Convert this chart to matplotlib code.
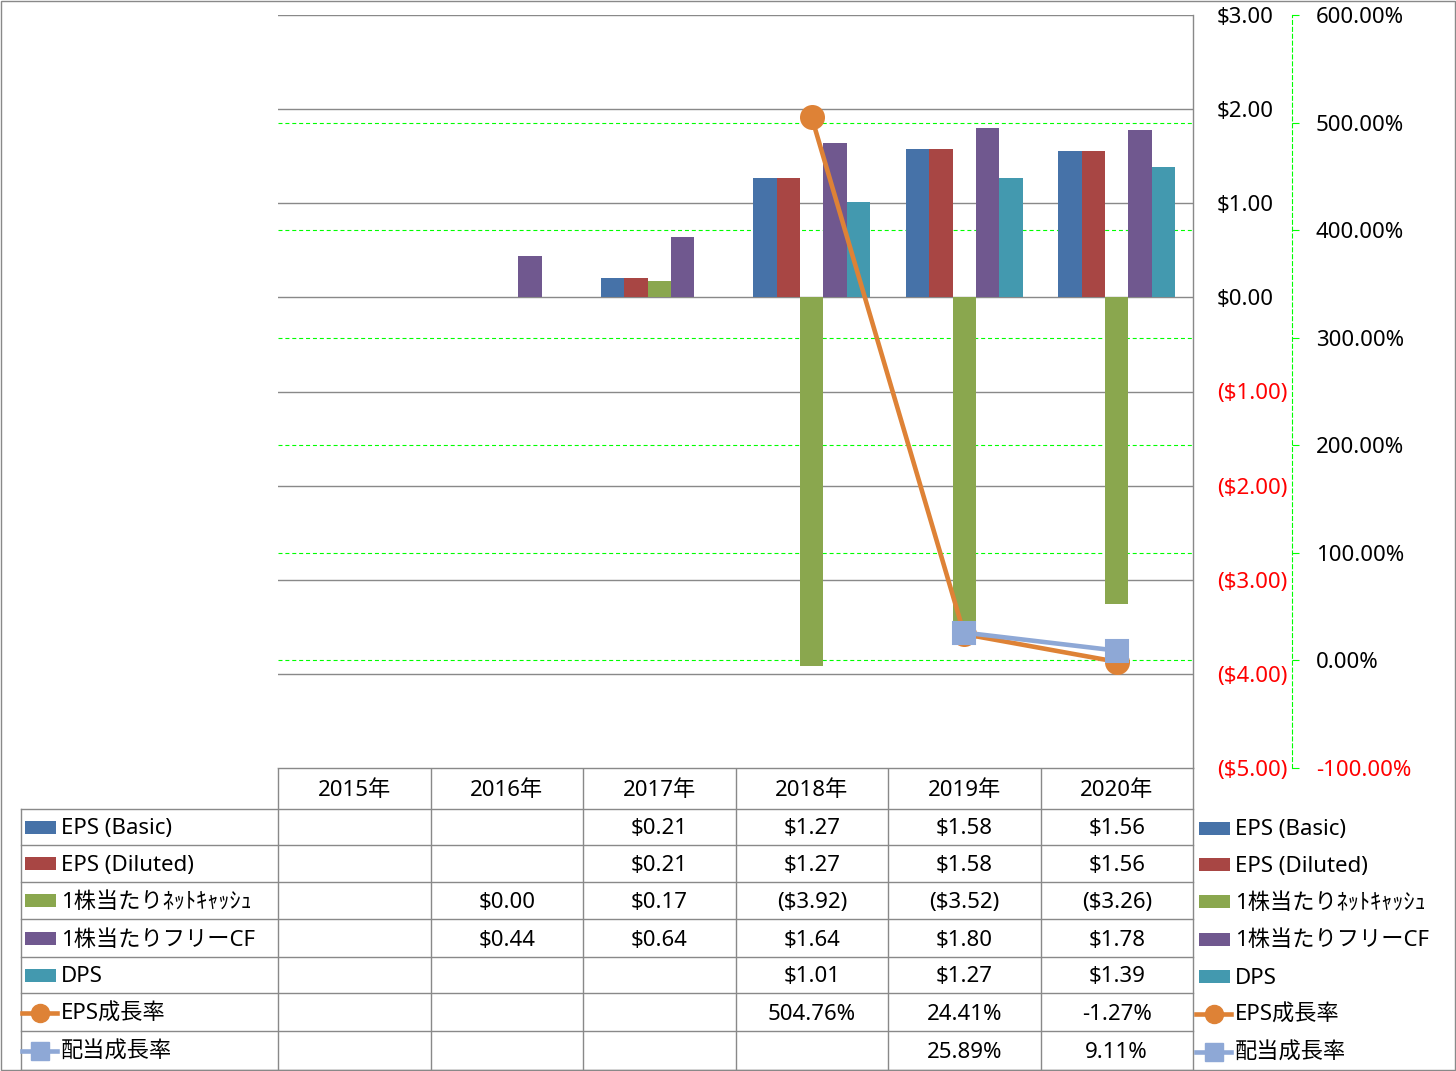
import matplotlib
matplotlib.use('Agg')
import matplotlib.pyplot as plt
from matplotlib.patches import Rectangle
from matplotlib.lines import Line2D

# ---------------- data ----------------
years = ['2015年', '2016年', '2017年', '2018年', '2019年', '2020年']
eps_basic = [None, None, 0.21, 1.27, 1.58, 1.56]
eps_diluted = [None, None, 0.21, 1.27, 1.58, 1.56]
net_cash = [None, 0.00, 0.17, -3.92, -3.52, -3.26]
free_cf = [None, 0.44, 0.64, 1.64, 1.80, 1.78]
dps = [None, None, None, 1.01, 1.27, 1.39]
eps_growth = [None, None, None, 504.76, 24.41, -1.27]
div_growth = [None, None, None, None, 25.89, 9.11]

bar_names = ['EPS (Basic)', 'EPS (Diluted)', '1株当たりﾈｯﾄｷｬｯｼｭ', '1株当たりフリーCF', 'DPS']
line_names = ['EPS成長率', '配当成長率']
money_ticks = [3, 2, 1, 0, -1, -2, -3, -4, -5]
pct_ticks = [600, 500, 400, 300, 200, 100, 0, -100]

# ---------------- style ----------------
plt.rcParams['font.family'] = ['Noto Sans', 'Noto Sans CJK JP', 'DejaVu Sans']
FS = 16
W, H = 1456, 1071
bar_colors = ['#4672A8', '#A84644', '#8AA74E', '#70588F', '#4399AF']
line_colors = ['#DE8236', '#8EA8D6']
GRAY = '#898989'
LIME = '#00FF00'

fig = plt.figure(figsize=(W / 100, H / 100), dpi=100)

# plot area in pixel terms
L, R, T, B = 278, 1193, 15, 768
ax = fig.add_axes([L / W, 1 - B / H, (R - L) / W, (B - T) / H])
ax.set_xlim(-0.5, len(years) - 0.5)
ax.set_ylim(-5, 3)
ax2 = ax.twinx()
ax2.set_ylim(-100, 600)

for s in ['top', 'left', 'bottom']:
    ax.spines[s].set_visible(False)
    ax2.spines[s].set_visible(False)
ax.spines['right'].set_color(GRAY)
ax.spines['right'].set_linewidth(1.0)
ax.set_xticks([])

# primary gridlines (solid gray)
for v in money_ticks:
    ax.axhline(v, color=GRAY, lw=1.0, zorder=0.5)


# secondary gridlines (green dashed) mapped into primary scale
def pct_to_money(p):
    return -5 + (p + 100) * 8 / 700


for p in pct_ticks[1:-1]:
    ax.axhline(pct_to_money(p), color=LIME, lw=0.8, ls=(0, (3.6, 2.6)), zorder=0.6)

# bars
n = len(bar_names)
w = 1 / (n + 1.5)
series = [eps_basic, eps_diluted, net_cash, free_cf, dps]
for i, (vals, c) in enumerate(zip(series, bar_colors)):
    xs = [k + (i - (n - 1) / 2) * w for k, v in enumerate(vals) if v is not None]
    ys = [v for v in vals if v is not None]
    ax.bar(xs, ys, width=w, color=c, zorder=2, linewidth=0)

# primary tick labels (right side, left aligned)
ax.yaxis.tick_right()
ax.set_yticks(money_ticks)
ax.set_yticklabels([f'${v:.2f}' if v >= 0 else f'(${-v:.2f})' for v in money_ticks])
ax.tick_params(axis='y', length=0, pad=17.3, labelsize=FS)
for lab, v in zip(ax.get_yticklabels(), money_ticks):
    lab.set_color('black' if v >= 0 else 'red')

# lines on secondary axis
markers = ['o', 's']
for vals, c, m in zip([eps_growth, div_growth], line_colors, markers):
    xs = [k for k, v in enumerate(vals) if v is not None]
    ys = [v for v in vals if v is not None]
    ax2.plot(xs, ys, color=c, lw=3.3, marker=m, ms=16.5 if m == 'o' else 15.5,
             markerfacecolor=c, markeredgecolor=c, markeredgewidth=1.5, zorder=5,
             solid_joinstyle='round', clip_on=False)

# secondary axis
ax2.spines['right'].set_position(('outward', 71.3))
ax2.spines['right'].set_color(LIME)
ax2.spines['right'].set_linestyle((0, (3.6, 2.6)))
ax2.spines['right'].set_linewidth(0.8)
ax2.set_yticks(pct_ticks)
ax2.set_yticklabels([f'{p:.2f}%' for p in pct_ticks])
ax2.tick_params(axis='y', direction='out', length=5, width=0.8, color=LIME,
                pad=12.2, labelsize=FS)
for lab, p in zip(ax2.get_yticklabels(), pct_ticks):
    lab.set_color('black' if p >= 0 else 'red')

# ---------------- data table (overlay in pixel coordinates) ----------------
ov = fig.add_axes([0, 0, 1, 1], zorder=-1)
ov.set_xlim(0, W)
ov.set_ylim(H, 0)
ov.axis('off')

ov.add_patch(Rectangle((0.5, 0.5), W - 1.5, H - 1.5, fill=False, ec=GRAY, lw=1.0))

col_w = (R - L) / len(years)
col_edges = [L + k * col_w for k in range(len(years) + 1)]
row_edges = [768, 808.5, 845, 881.5, 919, 957, 993, 1031, 1069.5]
TL = 21

# horizontal lines
ov.plot([L, R], [row_edges[0], row_edges[0]], color=GRAY, lw=1.0)
for y in row_edges[1:]:
    ov.plot([TL, R], [y, y], color=GRAY, lw=1.0)
# vertical lines
ov.plot([TL, TL], [row_edges[1], row_edges[-1]], color=GRAY, lw=1.0)
for x in col_edges[:-1]:
    ov.plot([x, x], [row_edges[0], row_edges[-1]], color=GRAY, lw=1.0)
ov.plot([R, R], [B, row_edges[-1]], color=GRAY, lw=1.0)

# header
hy = (row_edges[0] + row_edges[1]) / 2 + 2.5
for k, yr in enumerate(years):
    ov.text(L + (k + 0.5) * col_w, hy, yr, ha='center', va='center', fontsize=FS)


def fmt_money(v):
    if v is None:
        return ''
    return f'${v:.2f}' if v >= 0 else f'(${-v:.2f})'


def fmt_pct(v):
    if v is None:
        return ''
    return f'{v:.2f}%'


rows = [[fmt_money(v) for v in s] for s in series] + \
       [[fmt_pct(v) for v in s] for s in [eps_growth, div_growth]]
names = bar_names + line_names
for r, (name, cells) in enumerate(zip(names, rows)):
    yc = (row_edges[r + 1] + row_edges[r + 2]) / 2 + 2
    for k, txt in enumerate(cells):
        if txt:
            ov.text(L + (k + 0.5) * col_w, yc, txt, ha='center', va='center', fontsize=FS)
    # legend keys: left (in table) and right
    for kx, tx in [(25, 61), (1199, 1235)]:
        ty = yc + (1.0 if kx > 1000 else 0)
        ky = ty - 1
        if r < n:
            ov.add_patch(Rectangle((kx, ky - 7), 31, 13, color=bar_colors[r], lw=0))
        else:
            li = r - n
            ov.add_line(Line2D([kx - 3, kx + 32], [ky, ky], color=line_colors[li], lw=3.3,
                               marker=None))
            ov.add_line(Line2D([kx + 14.5], [ky], color=line_colors[li], marker=markers[li],
                               ms=13 if li == 0 else 12.5, markerfacecolor=line_colors[li],
                               markeredgecolor=line_colors[li]))
        ov.text(tx, ty, name, ha='left', va='center', fontsize=FS)

fig.savefig('out.png', dpi=100)
